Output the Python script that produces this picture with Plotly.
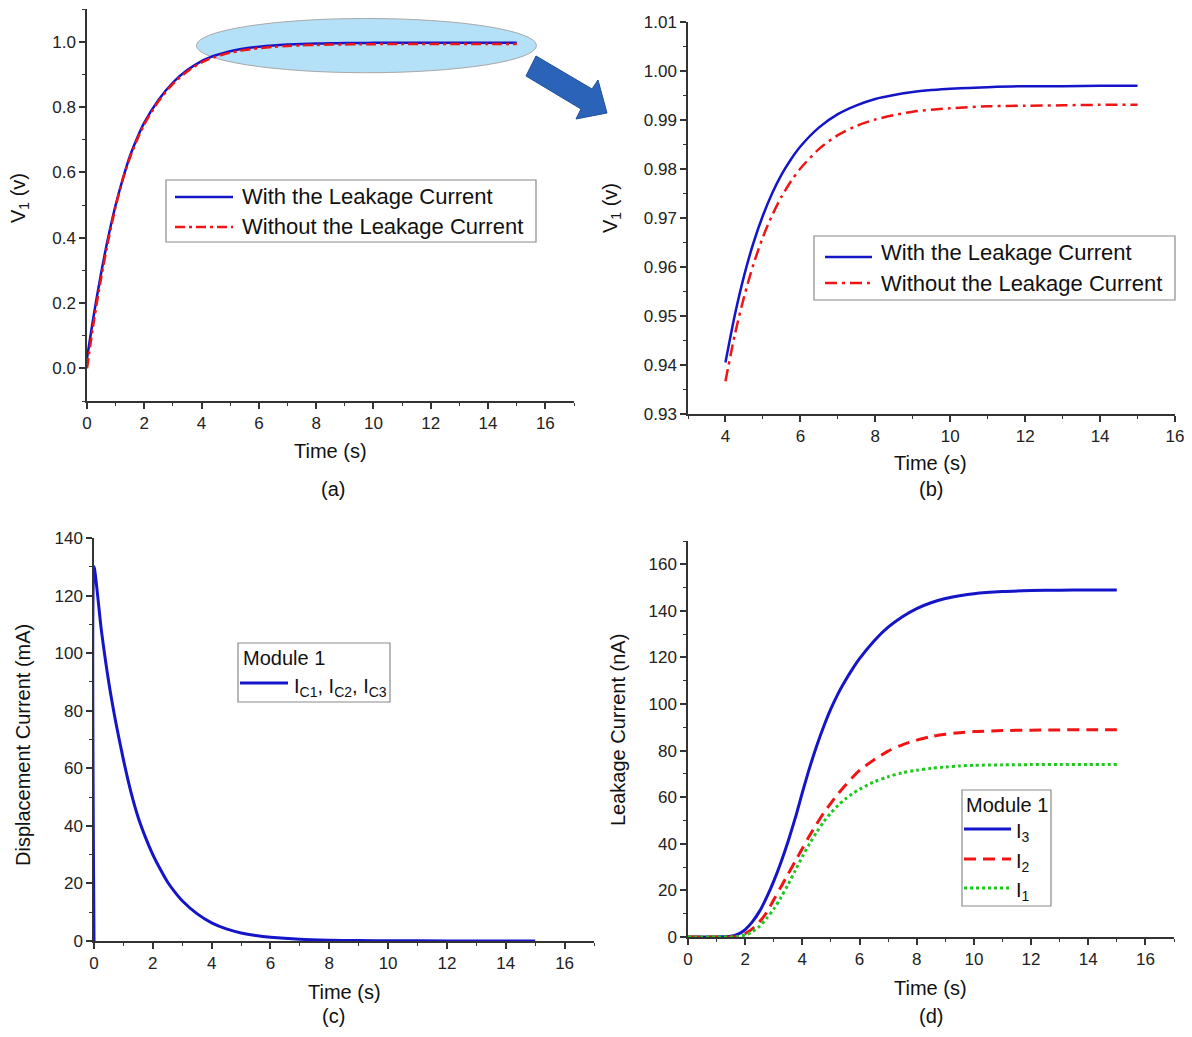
import plotly.graph_objects as go

# ---------------- data ----------------
time_v = [0, 0.25, 0.5, 0.75, 1, 1.25, 1.5, 1.75, 2, 2.5, 3, 3.5,
          4, 4.25, 4.5, 4.75, 5, 5.25, 5.5, 5.75, 6, 6.5, 7, 7.5, 8, 8.5, 9, 9.5, 10, 11, 12, 13, 14, 15]
v1_with_leak = [0.03, 0.17, 0.295, 0.405, 0.50, 0.58, 0.65, 0.705, 0.752, 0.822, 0.875, 0.913,
                0.9405, 0.9502, 0.9583, 0.9650, 0.9705, 0.9751, 0.9789, 0.9820, 0.9846, 0.9885,
                0.9912, 0.9930, 0.9943, 0.9951, 0.9957, 0.9961, 0.9964, 0.9967, 0.9969, 0.9969,
                0.997, 0.997]
v1_without_leak = [0.0, 0.15, 0.28, 0.395, 0.495, 0.578, 0.645, 0.70, 0.747, 0.818, 0.871, 0.909,
                   0.9367, 0.9462, 0.9540, 0.9606, 0.9661, 0.9706, 0.9744, 0.9775, 0.9801, 0.9841,
                   0.9869, 0.9888, 0.9901, 0.9910, 0.9917, 0.9921, 0.9924, 0.9928, 0.9929, 0.9930,
                   0.9931, 0.9931]

time_c = [0, 0, 0.25, 0.5, 0.75, 1, 1.25, 1.5, 1.75, 2, 2.25, 2.5, 2.75, 3, 3.5, 4, 4.5, 5,
          5.5, 6, 7, 8, 9, 10, 12, 15]
i_c = [0, 130, 108, 90, 75.5, 63, 52, 43, 36, 30, 25, 20.5, 17, 14, 9.5, 6.3, 4.2, 2.8,
       1.9, 1.3, 0.6, 0.3, 0.15, 0.08, 0.02, 0.01]

time_d = [0, 0.5, 1, 1.25, 1.5, 1.75, 2, 2.25, 2.5, 2.75, 3, 3.25, 3.5, 3.75, 4, 4.25, 4.5,
          4.75, 5, 5.25, 5.5, 5.75, 6, 6.5, 7, 7.5, 8, 8.5, 9, 9.5, 10, 11, 12, 13, 14, 15]
i3 = [0, 0, 0.05, 0.1, 0.3, 1.2, 3.2, 6.5, 11, 17, 24, 32, 41, 51, 62, 72.5, 82, 90.5, 98,
      104.5, 110, 115, 119.5, 127, 133, 137.5, 141, 143.5, 145.3, 146.5, 147.4, 148.3, 148.7,
      148.9, 149, 149]
i2 = [0, 0, 0, 0, 0, 0.4, 1.5, 3.5, 6.5, 10.5, 16, 21.5, 27, 32.5, 38, 43.5, 48.5, 53.3, 57.5,
      61.5, 65, 68.5, 71.5, 76, 79.8, 82.5, 84.5, 86, 87, 87.7, 88.2, 88.6, 88.8, 88.9, 89, 89]
i1 = [0, 0, 0, 0, 0, 0.2, 0.9, 2.3, 4.6, 8, 12, 17, 22.5, 28.5, 34.5, 40, 45, 49.5, 53.3,
      56.5, 59.2, 61.5, 63.4, 66.5, 68.8, 70.5, 71.6, 72.4, 73, 73.4, 73.7, 73.9, 74, 74, 74, 74]

# ---------------- styling ----------------
# the page adds an 8px body margin, so the figure is 16px smaller than the window
W, H = 1176, 1021
OFF = 8
FONT = "Arial, Liberation Sans, sans-serif"
BLUE = "#1414c8"
RED = "#f01414"
GREEN = "#1ec81e"
AX = "#333333"


def px(x):
    return (x - OFF) / W


def py(y):
    return 1 - (y - OFF) / H


fig = go.Figure()

line_a = dict(shape="spline", smoothing=0.8)

# Panel (a)
fig.add_trace(go.Scatter(x=time_v, y=v1_with_leak, mode="lines",
                         line=dict(color=BLUE, width=2.5, **line_a),
                         xaxis="x", yaxis="y", showlegend=False))
fig.add_trace(go.Scatter(x=time_v, y=v1_without_leak, mode="lines",
                         line=dict(color=RED, width=2.5, dash="10px,4px,3px,4px", **line_a),
                         xaxis="x", yaxis="y", showlegend=False))

# Panel (b): zoomed part t >= 4
idx = [i for i, t in enumerate(time_v) if t >= 4]
tb = [time_v[i] for i in idx]
fig.add_trace(go.Scatter(x=tb, y=[v1_with_leak[i] for i in idx], mode="lines",
                         line=dict(color=BLUE, width=2.5, **line_a),
                         xaxis="x2", yaxis="y2", showlegend=False))
fig.add_trace(go.Scatter(x=tb, y=[v1_without_leak[i] for i in idx], mode="lines",
                         line=dict(color=RED, width=2.5, dash="12px,5px,3px,5px", **line_a),
                         xaxis="x2", yaxis="y2", showlegend=False))

# Panel (c)
fig.add_trace(go.Scatter(x=time_c, y=i_c, mode="lines",
                         line=dict(color=BLUE, width=3, shape="spline", smoothing=0.6),
                         xaxis="x3", yaxis="y3", showlegend=False))

# Panel (d)
fig.add_trace(go.Scatter(x=time_d, y=i3, mode="lines",
                         line=dict(color=BLUE, width=3, **line_a),
                         xaxis="x4", yaxis="y4", showlegend=False))
fig.add_trace(go.Scatter(x=time_d, y=i2, mode="lines",
                         line=dict(color=RED, width=3, dash="12px,7px", **line_a),
                         xaxis="x4", yaxis="y4", showlegend=False))
fig.add_trace(go.Scatter(x=time_d, y=i1, mode="lines",
                         line=dict(color=GREEN, width=3, dash="3px,3px", **line_a),
                         xaxis="x4", yaxis="y4", showlegend=False))


def axis(domain, rng, dtick, minor, anchor, fmt=None, tick0=0):
    d = dict(domain=domain, range=rng, anchor=anchor, showline=True, linecolor=AX, linewidth=1.5,
             ticks="outside", ticklen=6, tickwidth=1.5, tickcolor=AX, showgrid=False, zeroline=False,
             tick0=tick0, dtick=dtick, automargin=False, ticklabeloverflow="allow",
             tickfont=dict(family=FONT, size=17, color="#222"),
             minor=dict(ticks="outside", ticklen=3.5, tickwidth=1.2, tickcolor=AX, dtick=minor,
                        tick0=tick0, showgrid=False),
             fixedrange=True)
    if fmt:
        d["tickformat"] = fmt
    return d


layout = dict(
    width=W, height=H, margin=dict(l=0, r=0, t=0, b=0, pad=0, autoexpand=False),
    paper_bgcolor="white", plot_bgcolor="rgba(0,0,0,0)",
    font=dict(family=FONT, color="#111", size=17),
    showlegend=False,
    xaxis=axis([px(87), px(574)], [0, 17], 2, 1, "y"),
    yaxis=axis([py(401), py(9)], [-0.1, 1.1], 0.2, 0.1, "x", ".1f"),
    xaxis2=axis([px(688), px(1175)], [3, 16], 2, 1, "y2"),
    yaxis2=axis([py(414), py(22)], [0.93, 1.01], 0.01, 0.005, "x2", ".2f"),
    xaxis3=axis([px(94), px(594)], [0, 17], 2, 1, "y3"),
    yaxis3=axis([py(941), py(538)], [0, 140], 20, 10, "x3"),
    xaxis4=axis([px(688), px(1174)], [0, 17], 2, 1, "y4"),
    yaxis4=axis([py(937), py(541)], [0, 170], 20, 10, "x4"),
)
fig.update_layout(**layout)

shapes = []
annotations = []


def text(x, y, s, size=20, anchor="center", angle=0):
    annotations.append(dict(x=px(x), y=py(y), xref="paper", yref="paper", text=s, showarrow=False,
                            xanchor=anchor, yanchor="middle", textangle=angle,
                            font=dict(family=FONT, size=size, color="#111")))


def lseg(x0, x1, y, color, dash="solid", width=2.5):
    shapes.append(dict(type="line", xref="paper", yref="paper", x0=px(x0), x1=px(x1), y0=py(y), y1=py(y),
                       line=dict(color=color, width=width, dash=dash)))


def box(x0, y0, x1, y1):
    shapes.append(dict(type="rect", xref="paper", yref="paper", x0=px(x0), x1=px(x1), y0=py(y1), y1=py(y0),
                       line=dict(color="#8a8a8a", width=1.2), fillcolor="white"))


# highlight ellipse in panel (a)
shapes.append(dict(type="circle", xref="x", yref="y", x0=3.82, x1=15.69, y0=0.905, y1=1.071,
                   fillcolor="#b4e1f8", line=dict(color="#a8a8a8", width=1), layer="below"))

# block arrow between (a) and (b)
pts = [(536, 56), (592, 89), (598, 80), (607, 113), (576, 119), (581, 109), (526, 76)]
path = "M " + " L ".join(f"{px(x):.5f},{py(y):.5f}" for x, y in pts) + " Z"
shapes.append(dict(type="path", xref="paper", yref="paper", path=path,
                   fillcolor="#2b63b8", line=dict(color="#1f4f98", width=1)))

# axis titles and panel labels
text(330, 451, "Time (s)")
text(333, 489, "(a)")
text(930, 463, "Time (s)")
text(931, 489, "(b)")
text(344, 992, "Time (s)")
text(333, 1016, "(c)")
text(930, 988, "Time (s)")
text(931, 1016, "(d)")
text(19, 198, "V<sub>1</sub> (v)", angle=-90)
text(611, 208, "V<sub>1</sub> (v)", angle=-90)
text(23, 745, "Displacement Current (mA)", angle=-90)
text(618, 730, "Leakage Current (nA)", angle=-90)

# legend (a)
box(166, 180, 536, 242)
lseg(175, 233, 197, BLUE)
text(240, 196, "With the Leakage Current", size=22, anchor="left")
lseg(175, 233, 227, RED, dash="10px,4px,3px,4px")
text(240, 226, "Without the Leakage Current", size=22, anchor="left")

# legend (b)
box(814, 236, 1175, 300)
lseg(825, 872, 257, BLUE)
text(879, 253, "With the Leakage Current", size=22, anchor="left")
lseg(825, 872, 283, RED, dash="12px,5px,3px,5px")
text(879, 283, "Without the Leakage Current", size=22, anchor="left")

# legend (c)
box(238, 643, 390, 702)
text(241, 658, "Module 1", size=20, anchor="left")
lseg(240, 288, 683, BLUE, width=3)
text(292, 687, "I<sub>C1</sub>, I<sub>C2</sub>, I<sub>C3</sub>", size=20, anchor="left")

# legend (d)
box(962, 790, 1051, 906)
text(964, 805, "Module 1", size=20, anchor="left")
lseg(964, 1011, 829, BLUE, width=3)
text(1014, 832, "I<sub>3</sub>", size=20, anchor="left")
lseg(964, 1011, 859, RED, dash="12px,7px", width=3)
text(1014, 862, "I<sub>2</sub>", size=20, anchor="left")
lseg(964, 1011, 888, GREEN, dash="3px,3px", width=3)
text(1014, 891, "I<sub>1</sub>", size=20, anchor="left")

fig.update_layout(shapes=shapes, annotations=annotations)
fig.write_html("out.html")
